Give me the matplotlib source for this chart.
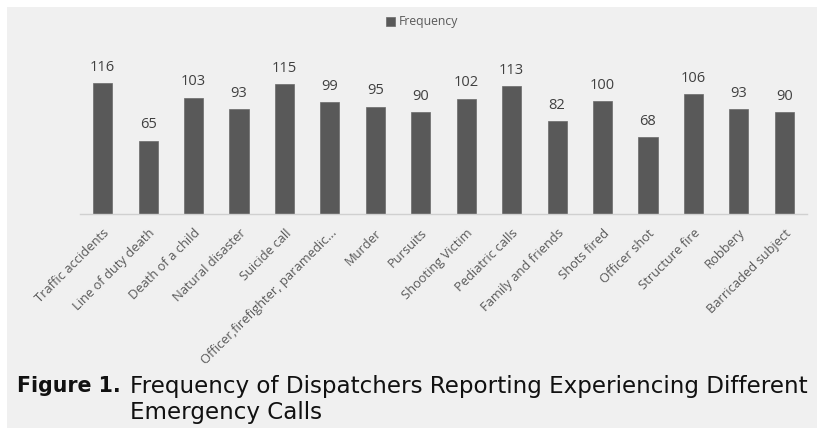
import matplotlib.pyplot as plt
from matplotlib.patches import Rectangle

categories = ['Traffic accidents', 'Line of duty death', 'Death of a child',
              'Natural disaster', 'Suicide call',
              'Officer,firefighter, paramedic...', 'Murder', 'Pursuits',
              'Shooting Victim', 'Pediatric calls', 'Family and friends',
              'Shots fired', 'Officer shot', 'Structure fire', 'Robbery',
              'Barricaded subject']
frequency = [116, 65, 103, 93, 115, 99, 95, 90, 102, 113, 82, 100, 68, 106, 93, 90]

W, H = 817, 428
fig = plt.figure(figsize=(W / 100, H / 100), dpi=100, facecolor='white')

# fond gris de la capture
fig.patches.append(Rectangle((7 / W, 0), 1 - 7 / W, 1 - 7 / H,
                             transform=fig.transFigure, fc='#f0f0f0', ec='none',
                             zorder=-10))

base_y = 214
top_y = base_y - 140 * 1.13
ax = fig.add_axes([80 / W, 1 - base_y / H, (807 - 80) / W, (base_y - top_y) / H])
ax.set_facecolor('none')

x = range(len(categories))
ax.bar(x, frequency, width=0.42, color='#595959', label='Frequency',
       edgecolor='#6a6a6a', linewidth=0.5)
for xi, v in zip(x, frequency):
    ax.annotate(str(v), (xi, v), xytext=(0, 6), textcoords='offset points',
                ha='center', va='bottom', fontsize=10.5, color='#404040',
                family='Open Sans')

ax.set_xlim(-0.5, len(categories) - 0.5)
ax.set_ylim(0, 140)
ax.set_yticks([])
for s in ['top', 'left', 'right']:
    ax.spines[s].set_visible(False)
ax.spines['bottom'].set_color('#d0d0d0')
ax.spines['bottom'].set_linewidth(1)
ax.set_xticks(list(x))
ax.set_xticklabels(categories, rotation=45, ha='right', rotation_mode='anchor',
                   fontsize=9.3, color='#595959', family='Open Sans')
ax.tick_params(axis='x', length=0, pad=9)

leg = ax.legend(loc='center', bbox_to_anchor=(422 / W, 1 - 22 / H),
                bbox_transform=fig.transFigure, frameon=False,
                handlelength=0.7, handleheight=0.7, handletextpad=0.3,
                prop={'family': 'Open Sans', 'size': 8.8})
for t in leg.get_texts():
    t.set_color('#595959')

# legende de la figure
fig.text(17 / W, 1 - 386 / H, 'Figure 1.', fontsize=14.8, fontweight='bold',
         family='DejaVu Sans', color='#111111', va='center', ha='left')
fig.text(130 / W, 1 - 386 / H,
         'Frequency of Dispatchers Reporting Experiencing Different',
         fontsize=16.6, family='DejaVu Sans', color='#111111', va='center', ha='left')
fig.text(130 / W, 1 - 412 / H, 'Emergency Calls',
         fontsize=16.6, family='DejaVu Sans', color='#111111', va='center', ha='left')

fig.savefig('out.png', dpi=100, facecolor=fig.get_facecolor())
